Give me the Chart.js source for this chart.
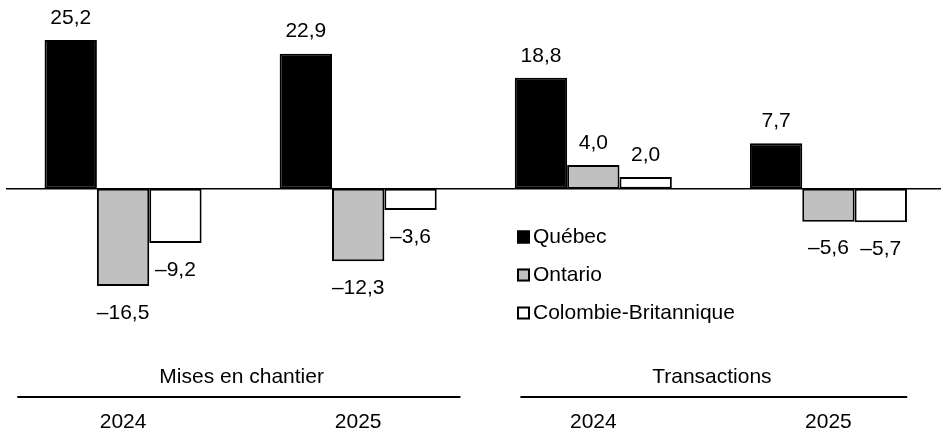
<!DOCTYPE html>
<html>
<head>
<meta charset="utf-8">
<script src="https://cdn.jsdelivr.net/npm/chart.js@4/dist/chart.umd.min.js"></script>
<style>
  html, body { margin: 0; padding: 0; background: #fff; overflow: hidden; width: 941px; height: 431px; }
  #wrap { position: relative; width: 946px; height: 431px; }
</style>
</head>
<body>
<div id="wrap"><canvas id="c" width="946" height="431"></canvas></div>
<script>
// ---- Data ----
const years = ['2024', '2025', '2024', '2025'];
const groups = ['Mises en chantier', 'Transactions'];
const seriesNames = ['Québec', 'Ontario', 'Colombie-Britannique'];
const quebec = [25.2, 22.9, 18.8, 7.7];
const ontario = [-16.5, -12.3, 4.0, -5.6];
const colombieBritannique = [-9.2, -3.6, 2.0, -5.7];

// ---- Styles ----
const FONT = '"Liberation Sans", Arial, sans-serif';
const FS = 21;
const fills = ['#000000', '#c0c0c0', '#ffffff'];

function fmt(v) {
  const s = Math.abs(v).toFixed(1).replace('.', ',');
  return v < 0 ? '\u2013' + s : s;
}

const decor = {
  id: 'decor',
  beforeDatasetsDraw(chart) {
    const ctx = chart.ctx;
    const y0 = chart.scales.y.getPixelForValue(0);
    ctx.save();
    ctx.strokeStyle = '#000';
    ctx.lineWidth = 1.5;
    ctx.beginPath();
    ctx.moveTo(6, y0);
    ctx.lineTo(chart.width, y0);
    ctx.stroke();
    ctx.restore();
  },
  afterDatasetsDraw(chart) {
    const ctx = chart.ctx;
    const xs = chart.scales.x;
    ctx.save();
    ctx.fillStyle = '#000';
    ctx.font = FS + 'px ' + FONT;
    ctx.textAlign = 'center';
    ctx.textBaseline = 'middle';
    // value labels
    chart.data.datasets.forEach((ds, di) => {
      const meta = chart.getDatasetMeta(di);
      meta.data.forEach((bar, i) => {
        const v = ds.data[i];
        const y = v >= 0 ? bar.y - 22 : bar.y + 27;
        ctx.fillText(fmt(v), bar.x, y);
      });
    });
    // year labels
    years.forEach((yr, i) => {
      ctx.fillText(yr, xs.getPixelForValue(i), 422);
    });
    // group labels and lines
    const ext = [[0.45, 0.435], [0.31, 0.335]];
    const cw = xs.getPixelForValue(1) - xs.getPixelForValue(0);
    groups.forEach((g, gi) => {
      const a = xs.getPixelForValue(gi * 2);
      const b = xs.getPixelForValue(gi * 2 + 1);
      ctx.fillText(g, (a + b) / 2 + 1, 377);
      ctx.lineWidth = 2;
      ctx.strokeStyle = '#000';
      ctx.beginPath();
      ctx.moveTo(a - ext[gi][0] * cw, 397);
      ctx.lineTo(b + ext[gi][1] * cw, 397);
      ctx.stroke();
    });
    // legend
    const lx = 517, ly = 237, step = 38, box = 13;
    ctx.textAlign = 'left';
    chart.data.datasets.forEach((ds, di) => {
      const cy = ly + di * step;
      ctx.fillStyle = ds.backgroundColor;
      ctx.fillRect(lx, cy - box / 2, box, box);
      ctx.lineWidth = 2;
      ctx.strokeStyle = '#000';
      ctx.strokeRect(lx + 1, cy - box / 2 + 1, box - 2, box - 2);
      ctx.fillStyle = '#000';
      ctx.fillText(ds.label, lx + box + 3, cy);
    });
    ctx.restore();
  }
};

new Chart(document.getElementById('c'), {
  type: 'bar',
  data: {
    labels: years,
    datasets: [
      { label: seriesNames[0], data: quebec, backgroundColor: fills[0] },
      { label: seriesNames[1], data: ontario, backgroundColor: fills[1] },
      { label: seriesNames[2], data: colombieBritannique, backgroundColor: fills[2] }
    ]
  },
  options: {
    responsive: false,
    animation: false,
    layout: { padding: { left: 5.5, right: 0, top: 0, bottom: 0 } },
    datasets: {
      bar: {
        borderColor: '#000',
        borderWidth: 2,
        categoryPercentage: 0.668,
        barPercentage: 1.0,
        borderSkipped: false
      }
    },
    scales: {
      x: { display: false, offset: true, grid: { display: false } },
      y: { display: false, min: -41.1, max: 32, grid: { display: false } }
    },
    plugins: {
      legend: { display: false },
      tooltip: { enabled: false }
    }
  },
  plugins: [decor]
});
</script>
</body>
</html>
